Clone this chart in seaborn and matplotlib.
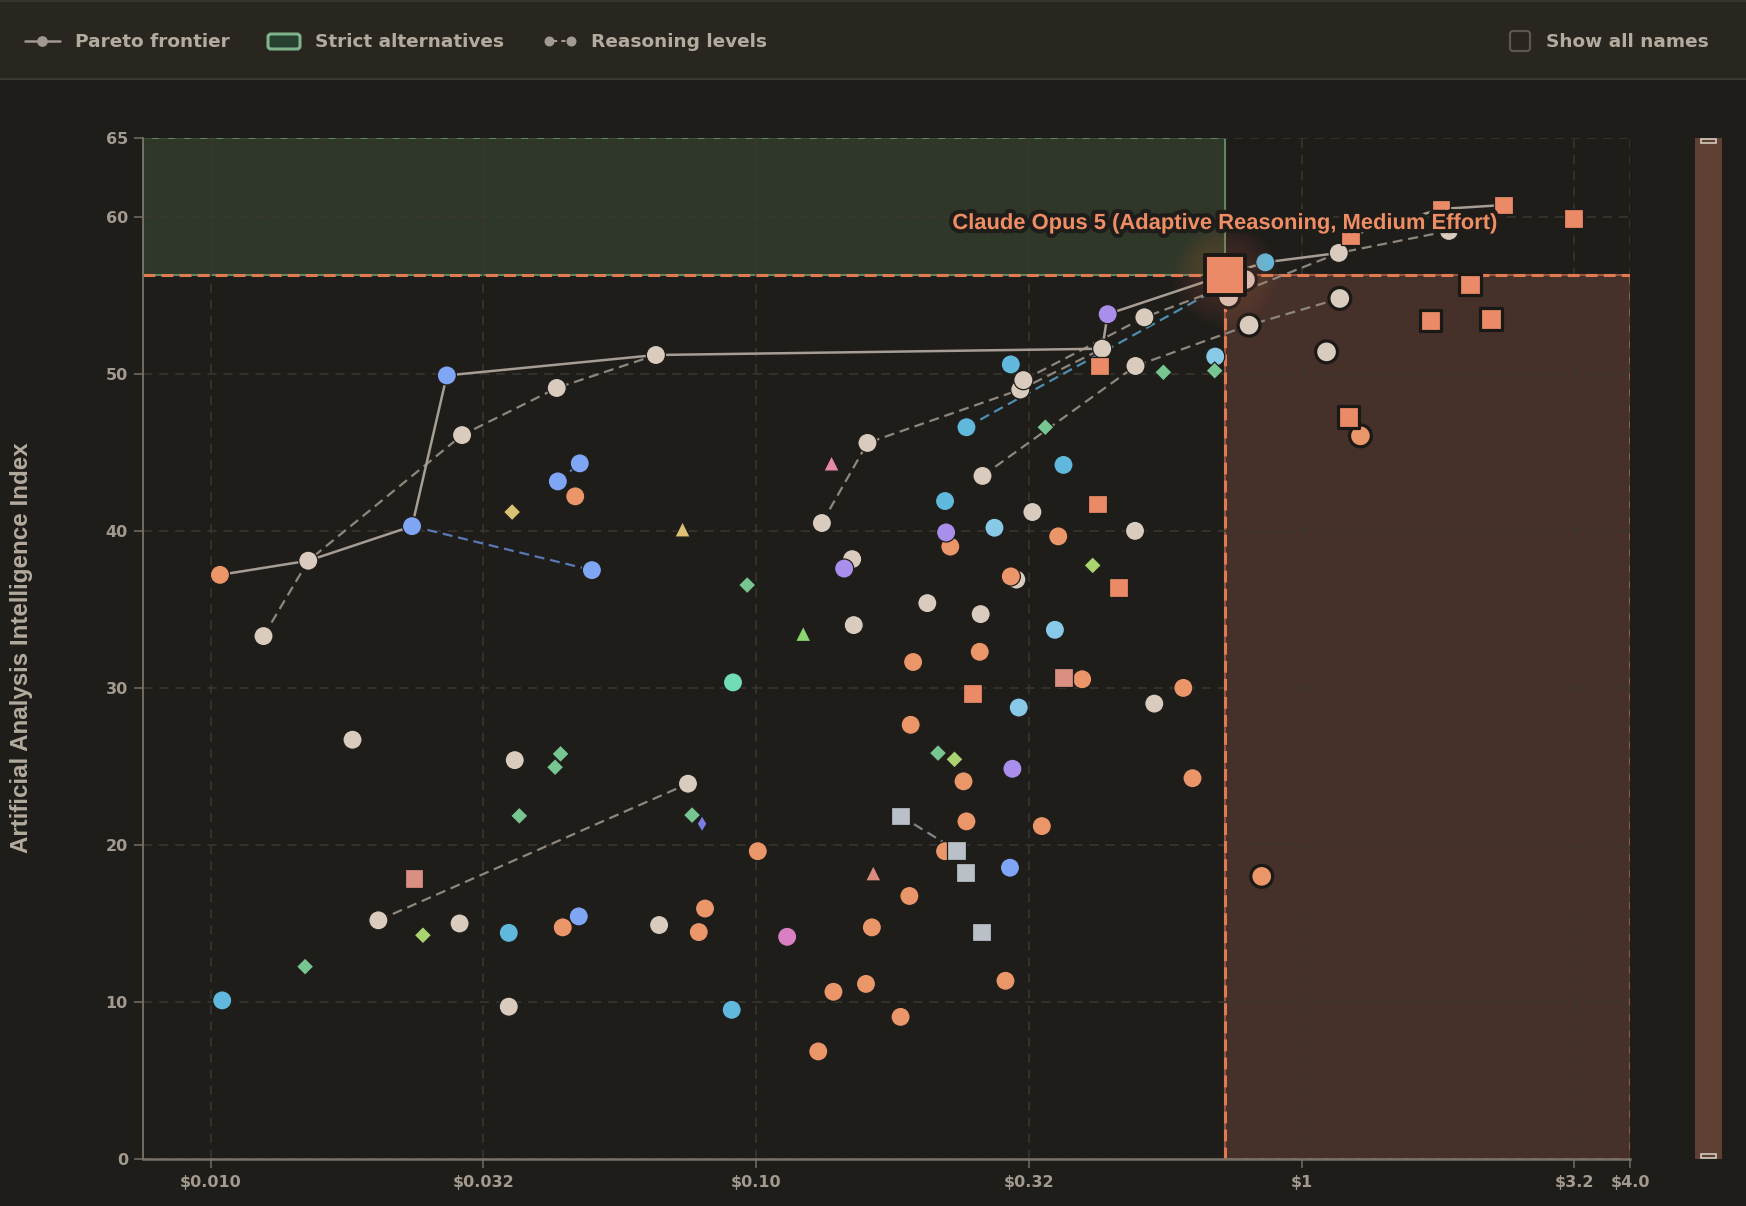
import matplotlib
matplotlib.use("Agg")
import matplotlib.pyplot as plt
import matplotlib.patches as mpatches
import matplotlib.patheffects as pe
import seaborn as sns
import pandas as pd
import numpy as np

W, H = 1746, 1206
BG = "#1f1d1a"
HEADER_BG = "#292620"
TEXT = "#b4ab9f"
TICK_TEXT = "#a29a8f"
GRID = "#3b3732"
SPINE = "#7a7268"
CUT = "#e07a51"

# (cost per task in $, intelligence index, reasoning family id)
neutral = [
    (0.0125, 33.3, "n1"), (0.0151, 38.1, "n1"), (0.0289, 46.1, "n1"), (0.0431, 49.1, "n1"), (0.0655, 51.2, "n1"),
    (0.132, 40.5, "n2"), (0.160, 45.6, "n2"), (0.305, 49.0, "n2"), (0.431, 51.6, "n2"),
    (0.309, 49.6, "n3"), (0.515, 53.6, "n3"), (0.789, 56.0, "n3"),
    (0.260, 43.5, "n4"), (0.496, 50.5, "n4"), (0.801, 53.1, "n4"), (1.175, 54.8, "n4"),
    (0.735, 54.9, "n5"), (1.170, 57.7, "n5"), (1.862, 59.1, "n5"),
    (0.0203, 15.2, "n6"), (0.0750, 23.9, "n6"),
    (1.111, 51.4, ""), (0.321, 41.2, ""), (0.495, 40.0, ""), (0.150, 38.2, ""), (0.300, 36.9, ""),
    (0.206, 35.4, ""), (0.258, 34.7, ""), (0.151, 34.0, ""), (0.537, 29.0, ""), (0.0664, 14.9, ""),
    (0.0182, 26.7, ""), (0.0361, 25.4, ""), (0.0286, 15.0, ""), (0.0352, 9.7, ""),
]
orange = [
    (0.0104, 37.2), (0.0466, 42.2), (0.227, 39.0), (0.358, 39.65), (0.293, 37.1), (0.194, 31.65),
    (0.257, 32.3), (0.396, 30.55), (0.192, 27.65), (0.240, 24.05), (0.243, 21.5), (0.334, 21.2),
    (0.1007, 19.6), (0.222, 19.6), (0.191, 16.75), (0.0806, 15.95), (0.0785, 14.45), (0.163, 14.75),
    (0.2865, 11.35), (0.159, 11.15), (0.1386, 10.65), (0.184, 9.05), (0.130, 6.85), (0.0442, 14.75),
    (0.607, 30.0), (0.631, 24.25), (0.845, 18.0), (1.282, 46.05),
]
anthropic = [
    (0.4265, 50.5), (0.423, 41.7), (0.462, 36.4), (0.2495, 29.65), (2.345, 60.75), (3.155, 59.9),
    (1.801, 60.5), (1.228, 58.8), (2.036, 55.7), (1.721, 53.4), (2.225, 53.5), (1.22, 47.25),
]
salmon = [(0.0236, 17.85), (0.366, 30.65)]
blue = [
    (0.0234, 40.3, "b1"), (0.0500, 37.5, "b1"), (0.0271, 49.9), (0.0433, 43.15, "b2"),
    (0.0475, 44.3, "b2"), (0.0473, 15.45), (0.292, 18.55),
]
cyan = [
    (0.293, 50.6), (0.243, 46.6, "c1"), (0.858, 57.1, "c1"), (0.366, 44.2), (0.222, 41.9),
    (0.0352, 14.4), (0.0105, 10.1), (0.0902, 9.5),
]
sky = [(0.2735, 40.2), (0.353, 33.7), (0.303, 28.75), (0.6945, 51.1)]
purple = [(0.441, 53.8), (0.223, 39.9), (0.145, 37.6), (0.295, 24.85)]
green = [
    (0.0963, 36.55), (0.339, 46.6), (0.558, 50.1), (0.693, 50.2), (0.0438, 25.8), (0.0428, 24.95),
    (0.0368, 21.85), (0.0149, 12.25), (0.2155, 25.85), (0.0763, 21.9),
]
lime = [(0.414, 37.8), (0.0245, 14.25), (0.231, 25.45)]
yellow = [(0.0357, 41.2)]
gold = [(0.0733, 40.1)]
pink = [(0.1375, 44.3)]
rose = [(0.164, 18.2)]
leaf = [(0.122, 33.45)]
mint = [(0.0907, 30.35)]
magenta = [(0.114, 14.15)]
slate = [(0.184, 21.85, "s1"), (0.233, 19.65, "s1"), (0.242, 18.25), (0.259, 14.45)]
violet = [(0.0796, 21.35)]

highlight_name = "Claude Opus 5 (Adaptive Reasoning, Medium Effort)"
highlight_cost = 0.725
highlight_score = 56.3

x_ticks = [0.01, 0.0316, 0.1, 0.316, 1.0, 3.16, 4.0]
x_tick_labels = ["$0.010", "$0.032", "$0.10", "$0.32", "$1", "$3.2", "$4.0"]
y_ticks = [0, 10, 20, 30, 40, 50, 60, 65]
x_lim = (0.0075, 4.0)
y_lim = (0, 65)

LAB_COLORS = {
    "neutral": "#d9ccbe", "orange": "#eb9669", "anthropic": "#ea8a67", "salmon": "#d98f82",
    "blue": "#7fa6f4", "cyan": "#60b9dd", "sky": "#88c9e7", "purple": "#a98eec",
    "green": "#77c692", "lime": "#a9d470", "yellow": "#d9c274", "gold": "#dcc073",
    "pink": "#e68aa8", "rose": "#d98b7c", "leaf": "#8bd66f", "mint": "#72dcb4",
    "magenta": "#d880c2", "slate": "#b9c0c8", "violet": "#7a7ee3",
}
LAB_MARKERS = {
    "neutral": "o", "orange": "o", "anthropic": "s", "salmon": "s", "blue": "o", "cyan": "o",
    "sky": "o", "purple": "o", "green": "D", "lime": "D", "yellow": "D", "gold": "^",
    "pink": "^", "rose": "^", "leaf": "^", "mint": "o", "magenta": "o", "slate": "s", "violet": "d",
}
MARKER_AREA = {"o": 190, "s": 180, "D": 78, "^": 125, "d": 70}
LAB_SIZES = {lab: MARKER_AREA[m] for lab, m in LAB_MARKERS.items()}
LINE_COLORS = {"neutral": "#8f867c", "blue": "#5a78b6", "cyan": "#4a8fb0", "slate": "#80868d"}

groups = {
    "neutral": neutral, "orange": orange, "anthropic": anthropic, "salmon": salmon, "blue": blue,
    "cyan": cyan, "sky": sky, "purple": purple, "green": green, "lime": lime, "yellow": yellow,
    "gold": gold, "pink": pink, "rose": rose, "leaf": leaf, "mint": mint, "magenta": magenta,
    "slate": slate, "violet": violet,
}
rows = []
for lab, pts in groups.items():
    for p in pts:
        rows.append({"cost": p[0], "score": p[1], "family": p[2] if len(p) > 2 else "", "lab": lab, "hl": False})
rows.append({"cost": highlight_cost, "score": highlight_score, "family": "", "lab": "anthropic", "hl": True})
df = pd.DataFrame(rows)

srt = df.sort_values("cost")
frontier = srt[srt["score"] > srt["score"].cummax().shift(1, fill_value=-1.0)]
dominated = (df["cost"] > highlight_cost) & (df["score"] < highlight_score)

sns.set_theme(style="dark")
plt.rcParams["font.family"] = ["DejaVu Sans"]
plt.rcParams["axes.facecolor"] = BG
plt.rcParams["figure.facecolor"] = BG

fig = plt.figure(figsize=(W / 100, H / 100), dpi=100, facecolor=BG)
ax = fig.add_axes([142.5 / W, 1 - 1159 / H, (1630 - 142.5) / W, (1159 - 138.3) / H])
ax.set_facecolor(BG)
ax.set_xscale("log")
ax.set_xlim(*x_lim)
ax.set_ylim(*y_lim)

# grid
ax.set_axisbelow(True)
ax.grid(True, which="major", color=GRID, lw=1.1, linestyle=(0, (6, 4.5)))
ax.minorticks_off()

# strict alternatives / dominated regions
ax.add_patch(mpatches.Rectangle((x_lim[0], highlight_score), highlight_cost - x_lim[0], y_lim[1] - highlight_score,
                                facecolor="#2f3729", edgecolor="#5d8664", lw=1.5, zorder=0.3))
ax.add_patch(mpatches.Rectangle((highlight_cost, 0), x_lim[1] - highlight_cost, highlight_score,
                                facecolor="#45302a", edgecolor="#97563f", lw=1.5, zorder=0.3))
ax.plot(x_lim, [highlight_score, highlight_score], color=CUT, lw=2.2, linestyle=(0, (3.9, 2.0)), zorder=2)
ax.plot([highlight_cost, highlight_cost], [0, highlight_score], color=CUT, lw=2.2, linestyle=(0, (3.9, 2.0)), zorder=2)

# reasoning levels
for fam, g in df[df["family"] != ""].groupby("family"):
    g = g.sort_values("cost")
    sns.lineplot(data=g, x="cost", y="score", estimator=None, sort=False, color=LINE_COLORS[g["lab"].iloc[0]],
                 lw=1.6, linestyle=(0, (4.5, 2.6)), legend=False, ax=ax, zorder=3)

# pareto frontier
sns.lineplot(data=frontier, x="cost", y="score", estimator=None, sort=False, color="#a69e94", lw=1.8,
             legend=False, ax=ax, zorder=4)

# points
normal = df[~dominated & ~df["hl"]]
sns.scatterplot(data=normal, x="cost", y="score", hue="lab", style="lab", size="lab",
                palette=LAB_COLORS, markers=LAB_MARKERS, sizes=LAB_SIZES,
                edgecolor=BG, linewidth=0.9, legend=False, ax=ax, zorder=5)
dom_sizes = {k: v * 1.3 for k, v in LAB_SIZES.items()}
sns.scatterplot(data=df[dominated], x="cost", y="score", hue="lab", style="lab", size="lab",
                palette=LAB_COLORS, markers=LAB_MARKERS, sizes=dom_sizes,
                edgecolor="#1b1916", linewidth=2.3, legend=False, ax=ax, zorder=6)

# highlighted model
for s in np.linspace(5600, 1100, 10):
    ax.scatter([highlight_cost], [highlight_score], s=s, color="#e0835a", alpha=0.02, lw=0, zorder=7)
hl = df[df["hl"]]
sns.scatterplot(data=hl, x="cost", y="score", marker="s", s=860, color=LAB_COLORS["anthropic"],
                edgecolor="#1b1916", linewidth=2.8, legend=False, ax=ax, zorder=8)
ax.annotate(highlight_name, (highlight_cost, highlight_score), xytext=(0, 37), textcoords="offset points",
            ha="center", va="center", fontsize=15.8, fontweight="bold", color="#ef8d64",
            family=["Liberation Sans", "DejaVu Sans"],
            path_effects=[pe.withStroke(linewidth=6, foreground=BG)], zorder=20)

# axes styling
ax.set_xticks(x_ticks)
ax.set_xticklabels(x_tick_labels)
ax.set_yticks(y_ticks)
ax.tick_params(axis="both", colors="#6f675e", labelcolor=TICK_TEXT, labelsize=11.5, length=6.5, width=1.2,
               bottom=True, left=True)
ax.tick_params(axis="x", pad=5)
ax.tick_params(axis="y", pad=4)
for lbl in ax.get_xticklabels() + ax.get_yticklabels():
    lbl.set_fontweight("bold")
ax.set_xlabel("")
ax.set_ylabel("")
for side in ["top", "right"]:
    ax.spines[side].set_visible(False)
ax.spines["left"].set_color(SPINE)
ax.spines["left"].set_linewidth(1.3)
ax.spines["bottom"].set_color(SPINE)
ax.spines["bottom"].set_linewidth(1.8)

fig.text(22 / W, 1 - 648 / H, "Artificial Analysis Intelligence Index", rotation=90, ha="center", va="center",
         fontsize=17.4, fontweight="bold", color=TEXT, family=["Liberation Sans Narrow", "Liberation Sans", "DejaVu Sans"])

# header bar with legend
hx = fig.add_axes([0, 1 - 80 / H, 1, 80 / H])
hx.set_xlim(0, W)
hx.set_ylim(80, 0)
hx.axis("off")
hx.add_patch(mpatches.Rectangle((0, 0), W, 80, facecolor=HEADER_BG, edgecolor="none"))
hx.plot([0, W], [79, 79], color="#3c3832", lw=2)
hx.plot([0, W], [1, 1], color="#37332d", lw=1.5)
hdr = dict(va="center", ha="left", fontsize=13.3, fontweight="bold", color=TEXT, family=["DejaVu Sans"])
hx.plot([24.5, 60], [41, 41], color="#a19990", lw=1.8)
hx.scatter([42], [41], s=45, color="#a19990", zorder=3)
hx.text(74.6, 42, "Pareto frontier", **hdr)
hx.add_patch(mpatches.FancyBboxPatch((268, 34), 32, 15, boxstyle="round,pad=0,rounding_size=3",
                                     facecolor="#28402f", edgecolor="#80b38b", lw=2.2))
hx.text(315, 42, "Strict alternatives", **hdr)
hx.scatter([549, 571], [41, 41], s=38, color="#a39b91", zorder=3)
hx.plot([553, 567], [41, 41], color="#a39b91", lw=1.5, linestyle=(0, (2, 2)))
hx.text(591, 42, "Reasoning levels", **hdr)
hx.add_patch(mpatches.FancyBboxPatch((1510, 31), 20, 20, boxstyle="round,pad=0,rounding_size=3",
                                     facecolor="none", edgecolor="#5c564e", lw=1.6))
hx.text(1545.6, 42, "Show all names", **hdr)

# range slider on the right
sx = fig.add_axes([1695 / W, 1 - 1159 / H, 27 / W, (1159 - 138) / H])
sx.set_facecolor("#5e4134")
sx.set_xticks([])
sx.set_yticks([])
for sp in sx.spines.values():
    sp.set_visible(False)
sx.set_xlim(0, 1)
sx.set_ylim(0, 1)
sx.add_patch(mpatches.Rectangle((0.22, 0.9955), 0.56, 0.0035, fill=False, edgecolor="#d3c9bd", lw=1.2))
sx.add_patch(mpatches.Rectangle((0.22, 0.001), 0.56, 0.0035, fill=False, edgecolor="#d3c9bd", lw=1.2))

fig.savefig("out.png", dpi=100, facecolor=BG)
